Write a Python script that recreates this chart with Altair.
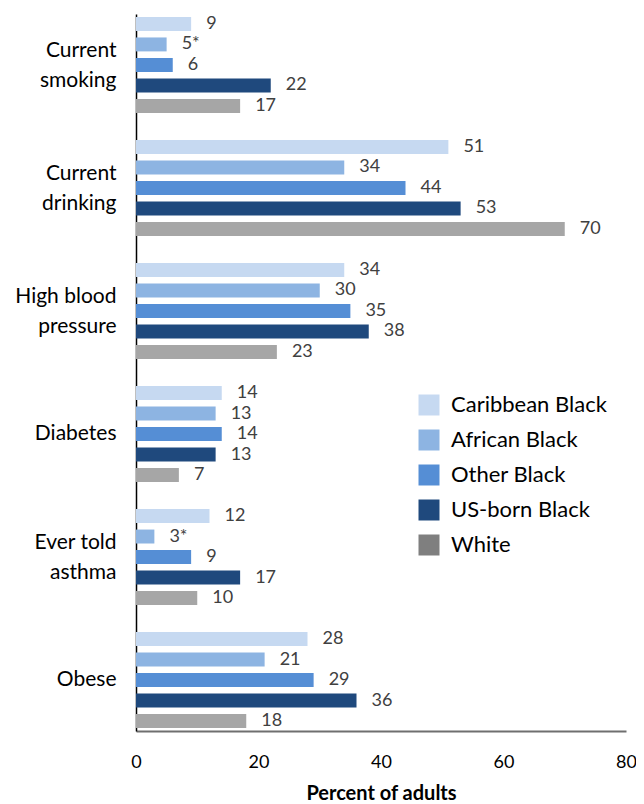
import altair as alt
import pandas as pd

categories = ["Current|smoking", "Current|drinking", "High blood|pressure", "Diabetes", "Ever told|asthma", "Obese"]
series = ["Caribbean Black", "African Black", "Other Black", "US-born Black", "White"]
values = [
    [9, 5, 6, 22, 17],
    [51, 34, 44, 53, 70],
    [34, 30, 35, 38, 23],
    [14, 13, 14, 13, 7],
    [12, 3, 9, 17, 10],
    [28, 21, 29, 36, 18],
]
flags = [
    ["", "*", "", "", ""],
    ["", "", "", "", ""],
    ["", "", "", "", ""],
    ["", "", "", "", ""],
    ["", "*", "", "", ""],
    ["", "", "", "", ""],
]
bar_colors = ["#C6D9F1", "#8DB4E2", "#558ED5", "#1F497D", "#A6A6A6"]
legend_colors = ["#C6D9F1", "#8DB4E2", "#558ED5", "#1F497D", "#7F7F7F"]

rows = []
for ci, c in enumerate(categories):
    for si, s in enumerate(series):
        rows.append({"cat": c, "series": s, "value": values[ci][si],
                     "label": f"{values[ci][si]}{flags[ci][si]}"})
df = pd.DataFrame(rows)

FONT = "Lato"

y_enc = alt.Y("cat:N", sort=categories,
              scale=alt.Scale(paddingInner=0.22, paddingOuter=0.024),
              axis=alt.Axis(title=None, labelExpr="split(datum.value, '|')",
                            labelFontSize=21, labelColor="#000000", labelFont=FONT,
                            labelLineHeight=30, labelAlign="right", labelBaseline="middle",
                            labelOffset={"condition": {"test": "indexof(datum.value, '|') >= 0", "value": -14}, "value": 0},
                            labelPadding=20, ticks=False, domainColor="#000000",
                            domainWidth=1.5))
yoff_enc = alt.YOffset("series:N", sort=series,
                       scale=alt.Scale(paddingInner=0.32, paddingOuter=0.0))
x_enc = alt.X("value:Q", scale=alt.Scale(domain=[0, 80], nice=False),
              axis=alt.Axis(title="Percent of adults", values=[0, 20, 40, 60, 80],
                            grid=False, ticks=False, labelFontSize=18, labelFont=FONT,
                            labelColor="#000000", labelPadding=22, labelFlush=False,
                            domainColor="#6F6F6F", domainWidth=2,
                            titleFontSize=20, titleFont=FONT, titleFontWeight="bold",
                            titleColor="#000000", titlePadding=12))

base = alt.Chart(df)

legend_layer = base.mark_bar(opacity=0).encode(
    y=y_enc, yOffset=yoff_enc, x=x_enc,
    color=alt.Color("series:N", sort=series,
                    scale=alt.Scale(domain=series, range=legend_colors),
                    legend=alt.Legend(title=None, orient="none", legendX=282, legendY=380,
                                      symbolType="square", symbolSize=441,
                                      symbolOpacity=1, symbolStrokeWidth=0,
                                      labelFontSize=22, labelFont=FONT,
                                      labelColor="#000000", rowPadding=13,
                                      labelOffset=11, padding=0)),
)

bars = base.mark_bar().encode(
    y=y_enc, yOffset=yoff_enc, x=x_enc,
    color=alt.Color("series:N", sort=series,
                    scale=alt.Scale(domain=series, range=bar_colors), legend=None),
)

texts = base.mark_text(align="left", baseline="middle", dx=15, fontSize=18,
                       font=FONT, color="#404040").encode(
    y=y_enc, yOffset=yoff_enc, x=x_enc, text="label:N",
)

chart = alt.layer(legend_layer, bars, texts).resolve_scale(color="independent").properties(
    width=490, height=717,
    autosize=alt.AutoSizeParams(type="none"),
    padding={"left": 128, "top": 6, "right": 10, "bottom": 76},
).configure_view(stroke=None)

chart.save("out.html", embed_options={"renderer": "svg", "actions": False})
